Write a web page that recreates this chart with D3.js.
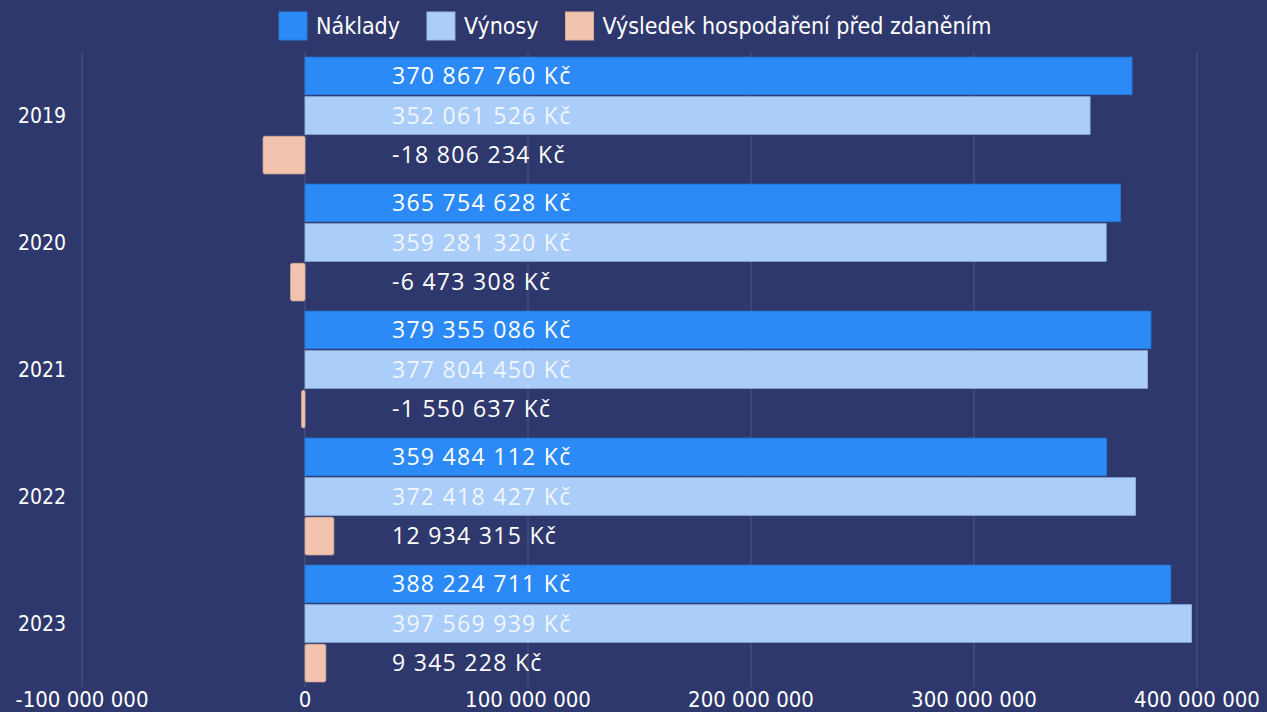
<!DOCTYPE html>
<html>
<head>
<meta charset="utf-8">
<script src="https://cdn.jsdelivr.net/npm/d3@7"></script>
<style>
  html, body { margin: 0; padding: 0; background: #2f386c; }
  svg { display: block; }
  .cond { font-family: "Liberation Sans Narrow", "DejaVu Sans Condensed", Roboto, sans-serif; }
  .val { font-family: "Open Sans", Inter, sans-serif; font-weight: 500; letter-spacing: 1.3px; }
</style>
</head>
<body>
<svg id="chart"></svg>
<script>
// data
var years = ["2019", "2020", "2021", "2022", "2023"];
var series = ["Náklady", "Výnosy", "Výsledek hospodaření před zdaněním"];
var naklady = [370867760, 365754628, 379355086, 359484112, 388224711];
var vynosy = [352061526, 359281320, 377804450, 372418427, 397569939];
var vysledek = [-18806234, -6473308, -1550637, 12934315, 9345228];
var xTicks = [-100000000, 0, 100000000, 200000000, 300000000, 400000000];
var colors = ["#2b8af6", "#aacdfa", "#f2c3ae"];

var width = 1267, height = 712;
var svg = d3.select("#chart").attr("width", width).attr("height", height);

var x = d3.scaleLinear()
    .domain([-100000000, 400000000])
    .range([82, 1197]);

var y = d3.scaleBand()
    .domain(years)
    .range([52, 687])
    .paddingInner(0.08)
    .paddingOuter(0.04);

var ySub = d3.scaleBand()
    .domain(series)
    .range([0, y.bandwidth()])
    .paddingInner(0.05);

// czech style: space as thousands separator, plain hyphen for minus
var locale = d3.formatLocale({ decimal: ",", thousands: " ", grouping: [3], currency: ["", ""], minus: "-" });
var fmt = locale.format(",");

// build rows
var rows = [];
years.forEach(function(yr, i) {
    [naklady[i], vynosy[i], vysledek[i]].forEach(function(v, j) {
        rows.push({ year: yr, s: series[j], idx: j, value: v });
    });
});

// grid lines
svg.append("g").selectAll("line")
    .data(xTicks)
    .enter().append("line")
    .attr("x1", function(d) { return x(d); })
    .attr("x2", function(d) { return x(d); })
    .attr("y1", y.range()[0])
    .attr("y2", y.range()[1])
    .attr("stroke", "rgba(255,255,255,0.16)")
    .attr("stroke-width", 1);

// bars
svg.append("g").selectAll("rect")
    .data(rows)
    .enter().append("rect")
    .attr("x", function(d) { return x(Math.min(0, d.value)); })
    .attr("width", function(d) { return Math.abs(x(d.value) - x(0)); })
    .attr("y", function(d) { return y(d.year) + ySub(d.s); })
    .attr("height", ySub.bandwidth())
    .attr("rx", function(d) { return d.idx == 2 ? 2 : 0; })
    .attr("fill", function(d) { return colors[d.idx]; })
    .attr("stroke", function(d) { return d3.color(colors[d.idx]).darker(0.4); })
    .attr("stroke-width", 0.8);

// value labels
svg.append("g").selectAll("text")
    .data(rows)
    .enter().append("text")
    .attr("class", "val")
    .attr("x", x(39000000))
    .attr("y", function(d) { return y(d.year) + ySub(d.s) + ySub.bandwidth() / 2; })
    .attr("dy", "0.36em")
    .attr("font-size", 23)
    .attr("fill", function(d) { return d.idx == 1 ? "#f2f6ff" : "#ffffff"; })
    .text(function(d) { return fmt(d.value) + " Kč"; });

// year labels
svg.append("g").selectAll("text")
    .data(years)
    .enter().append("text")
    .attr("class", "cond")
    .attr("x", 42)
    .attr("y", function(d) { return y(d) + y.bandwidth() / 2; })
    .attr("dy", "0.36em")
    .attr("text-anchor", "middle")
    .attr("font-size", 21)
    .attr("fill", "#ffffff")
    .text(function(d) { return d; });

// x axis labels
svg.append("g").selectAll("text")
    .data(xTicks)
    .enter().append("text")
    .attr("class", "cond")
    .attr("x", function(d) { return x(d); })
    .attr("y", 699)
    .attr("dy", "0.36em")
    .attr("text-anchor", "middle")
    .attr("font-size", 22)
    .attr("fill", "#ffffff")
    .text(function(d) { return fmt(d); });

// legend
var legend = svg.append("g").attr("class", "cond");
var lx = 279;
series.forEach(function(s, i) {
    var g = legend.append("g").attr("transform", "translate(" + lx + ",12)");
    g.append("rect")
        .attr("width", 28).attr("height", 28)
        .attr("fill", colors[i])
        .attr("stroke", d3.color(colors[i]).darker(0.3));
    var t = g.append("text")
        .attr("x", 37).attr("y", 14).attr("dy", "0.36em")
        .attr("font-size", 23)
        .attr("fill", "#ffffff")
        .text(s);
    lx += 37 + t.node().getComputedTextLength() + 27;
});
</script>
</body>
</html>
